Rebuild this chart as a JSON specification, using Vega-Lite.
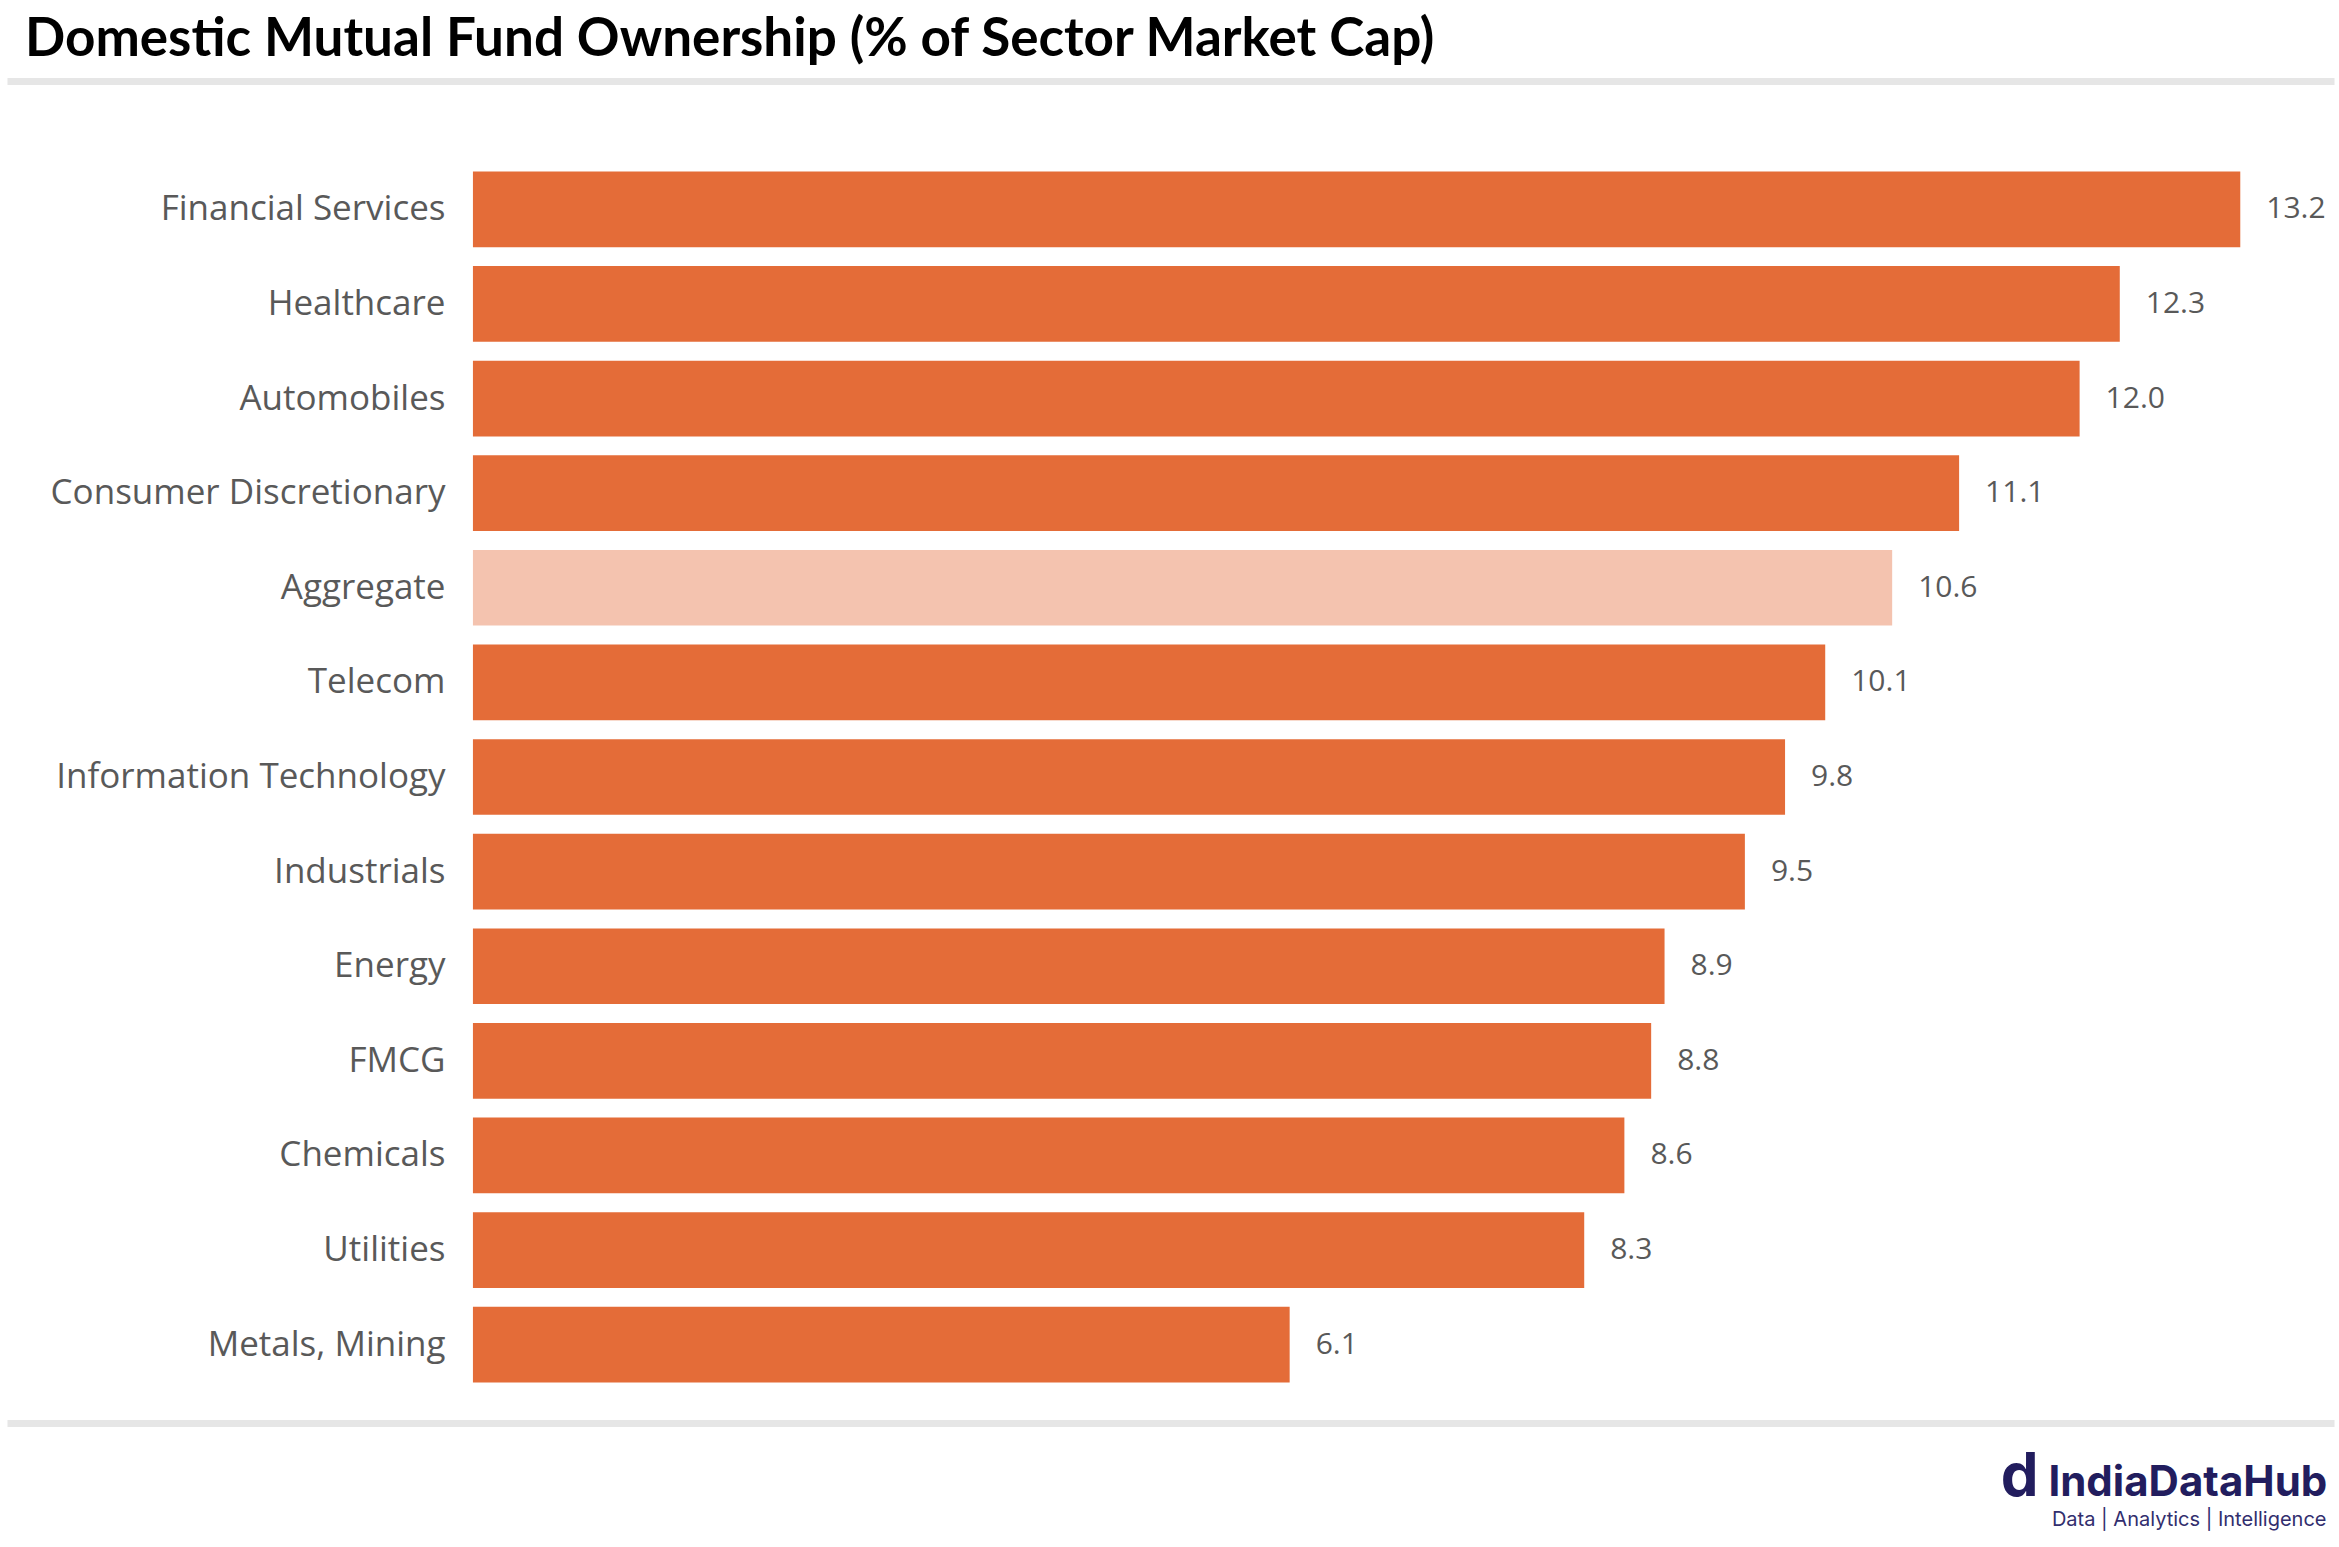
{
  "$schema": "https://vega.github.io/schema/vega-lite/v6.json",
  "width": 2327,
  "height": 1230,
  "autosize": {"type": "none"},
  "padding": {"left": 7, "top": 162, "right": 5, "bottom": 155},
  "background": "white",
  "title": {
    "text": "Domestic Mutual Fund Ownership (% of Sector Market Cap)",
    "anchor": "start",
    "frame": "group",
    "font": "Lato",
    "fontSize": 53,
    "fontWeight": "bold",
    "color": "#000000",
    "offset": 14,
    "dx": 18
  },
  "data": {
    "values": [
      {"sector": "Financial Services", "value": 13.2, "kind": "Sector"},
      {"sector": "Healthcare", "value": 12.3, "kind": "Sector"},
      {"sector": "Automobiles", "value": 12.0, "kind": "Sector"},
      {"sector": "Consumer Discretionary", "value": 11.1, "kind": "Sector"},
      {"sector": "Aggregate", "value": 10.6, "kind": "Aggregate"},
      {"sector": "Telecom", "value": 10.1, "kind": "Sector"},
      {"sector": "Information Technology", "value": 9.8, "kind": "Sector"},
      {"sector": "Industrials", "value": 9.5, "kind": "Sector"},
      {"sector": "Energy", "value": 8.9, "kind": "Sector"},
      {"sector": "FMCG", "value": 8.8, "kind": "Sector"},
      {"sector": "Chemicals", "value": 8.6, "kind": "Sector"},
      {"sector": "Utilities", "value": 8.3, "kind": "Sector"},
      {"sector": "Metals, Mining", "value": 6.1, "kind": "Sector"}
    ]
  },
  "encoding": {
    "y": {
      "field": "sector",
      "type": "nominal",
      "sort": null,
      "scale": {"paddingInner": 0.2, "paddingOuter": 0.1},
      "axis": {
        "orient": "left",
        "offset": -438,
        "domain": false,
        "ticks": false,
        "grid": false,
        "labelPadding": 0,
        "labelFont": "Open Sans",
        "labelFontSize": 35,
        "labelColor": "#595959",
        "labelLimit": 0,
        "title": null
      }
    }
  },
  "layer": [
    {
      "mark": {"type": "bar"},
      "encoding": {
        "x": {
          "field": "value",
          "type": "quantitative",
          "scale": {"domain": [-3.48, 13.9], "nice": false, "zero": false},
          "axis": {
            "orient": "bottom",
            "offset": 31,
            "domainColor": "#e6e6e6",
            "domainWidth": 7,
            "ticks": false,
            "grid": false,
            "values": [11.689, 13.846],
            "labelExpr": "datum.value < 12 ? 'd' : 'IndiaDataHub'",
            "labelFont": "Inter",
            "labelFontWeight": "bold",
            "labelFontSize": {"condition": {"test": "datum.value < 12", "value": 60}, "value": 42},
            "labelColor": "#221d5e",
            "labelAlign": "right",
            "labelBaseline": "alphabetic",
            "labelPadding": 72,
            "labelLimit": 0,
            "labelFlush": false,
            "labelOverlap": false,
            "labelBound": false,
            "title": "Data | Analytics | Intelligence",
            "titleFont": "Inter",
            "titleFontSize": 20,
            "titleFontWeight": "normal",
            "titleColor": "#322e6e",
            "titleAnchor": "end",
            "titleAlign": "right",
            "titleBaseline": "alphabetic",
            "titleX": 2319,
            "titleY": 102
          }
        },
        "x2": {"datum": 0},
        "color": {
          "field": "kind",
          "type": "nominal",
          "scale": {"domain": ["Sector", "Aggregate"], "range": ["#E46C38", "#F4C3AF"]},
          "legend": null
        }
      }
    },
    {
      "mark": {"type": "text", "align": "left", "baseline": "middle", "dx": 26, "font": "Open Sans", "fontSize": 30, "color": "#595959"},
      "encoding": {
        "x": {
          "field": "value",
          "type": "quantitative",
          "axis": {
            "orient": "top",
            "offset": 81,
            "domainColor": "#e6e6e6",
            "domainWidth": 7,
            "ticks": false,
            "labels": false,
            "grid": false,
            "title": null
          }
        },
        "text": {"field": "value", "type": "quantitative", "format": ".1f"}
      }
    }
  ],
  "resolve": {"axis": {"x": "independent"}},
  "config": {"view": {"stroke": null}}
}
